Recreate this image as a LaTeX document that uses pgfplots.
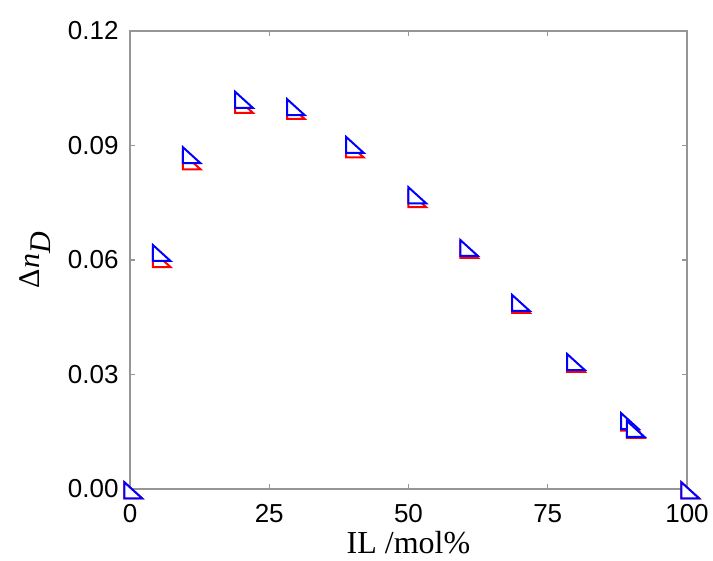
\documentclass[border=0pt]{standalone}
\usepackage{fontspec}
\setmainfont{Liberation Sans}
\newfontfamily\seriffont{Liberation Serif}
\usepackage{pgfplots}
\pgfplotsset{compat=1.18}
\pgfdeclareplotmark{rtri}{%
  \pgfpathmoveto{\pgfpoint{-5.6pt}{6.7pt}}%
  \pgfpathlineto{\pgfpoint{-5.6pt}{-9.3pt}}%
  \pgfpathlineto{\pgfpoint{12pt}{-9.3pt}}%
  \pgfpathclose
  \pgfusepathqfillstroke}
\definecolor{axgray}{RGB}{150,150,150}
\begin{document}
\begin{tikzpicture}
\begin{axis}[name=ax, at={(0,0)}, anchor=south west,
  scale only axis, width=557pt, height=458pt,
  xmin=0, xmax=100, ymin=0, ymax=0.12,
  xtick={0,25,50,75,100},
  ytick={0,0.03,0.06,0.09,0.12},
  yticklabel style={/pgf/number format/fixed, /pgf/number format/fixed zerofill, /pgf/number format/precision=2, xshift=-8pt},
  /pgf/number format/assume math mode=true,
  tick label style={font=\fontsize{26}{26}\selectfont, black},
  tick align=inside, major tick length=5pt,
  tick style={axgray, line width=1.2pt},
  axis line style={axgray, line width=1.5pt},
  xticklabel style={yshift=-12pt},
  clip=false,
  xlabel={IL /mol\%},
  xlabel style={font=\seriffont\fontsize{32}{32}\selectfont, at={(axis description cs:0.5,-0.117)}, anchor=center},
  ylabel={\seriffont Δ\textit{n}$_{\textit{D}}$},
  ylabel style={font=\seriffont\fontsize{30}{30}\selectfont, at={(axis description cs:-0.17,0.5)}, anchor=center},
]
\addplot[only marks, mark=rtri, color={rgb,255:red,255;green,0;blue,0}, mark options={fill=white, line width=2pt}] coordinates {
(0,0) (5.1,0.0606) (10.5,0.0862) (19.9,0.1010) (29.2,0.0994) (39.8,0.0893) (51.0,0.0763) (60.3,0.0630) (69.6,0.0486) (79.5,0.0331) (89.2,0.0177) (90.2,0.0158) (100,0)
};
\addplot[only marks, mark=rtri, color={rgb,255:red,0;green,0;blue,255}, mark options={fill=white, line width=2pt}] coordinates {
(0,0) (5.1,0.0622) (10.5,0.0878) (19.9,0.1023) (29.2,0.1004) (39.8,0.0905) (51.0,0.0773) (60.3,0.0635) (69.6,0.0491) (79.5,0.0336) (89.2,0.0181) (90.2,0.0161) (100,0)
};
\end{axis}
\pgfresetboundingbox
\path (ax.south west) ++(-130pt,-72pt) rectangle ([shift={(26pt,31pt)}]ax.north east);
\end{tikzpicture}
\end{document}
